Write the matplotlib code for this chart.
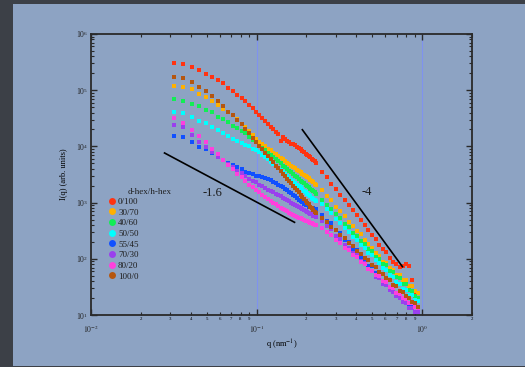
import matplotlib
matplotlib.use("Agg")
import matplotlib.pyplot as plt
from matplotlib.lines import Line2D
from matplotlib.patches import Rectangle
from matplotlib.ticker import LogLocator, FixedLocator, FixedFormatter, NullFormatter

plt.rcParams['font.family'] = ['Liberation Serif', 'DejaVu Serif']
plt.rcParams['mathtext.fontset'] = 'stix'

q_low = [0.0316, 0.0361, 0.0406, 0.0451, 0.0496, 0.0541, 0.0586, 0.0631, 0.0676, 0.0721,
         0.0766, 0.0811, 0.0856, 0.0901, 0.0946, 0.0991, 0.1036, 0.1081, 0.1126, 0.1171,
         0.1216, 0.1261, 0.1306, 0.1351, 0.1396, 0.1441, 0.1486, 0.1531, 0.1576, 0.1621,
         0.1666, 0.1711, 0.1756, 0.1801, 0.1846, 0.1891, 0.1936, 0.1981, 0.2026, 0.2071,
         0.2116, 0.2161, 0.2206, 0.2251, 0.2296]
q_high = [0.249, 0.265, 0.283, 0.302, 0.321, 0.341, 0.361, 0.382, 0.404, 0.426,
          0.449, 0.473, 0.498, 0.524, 0.551, 0.579, 0.608, 0.637, 0.667, 0.698,
          0.730, 0.763, 0.797, 0.832, 0.868, 0.905, 0.940]

# log10 I(q) for each sample
red_lo = [5.49, 5.47, 5.42, 5.36, 5.29, 5.23, 5.18, 5.12, 5.04, 4.99, 4.92, 4.86, 4.80, 4.74, 4.68,
          4.62, 4.55, 4.50, 4.45, 4.40, 4.35, 4.31, 4.26, 4.22, 4.09, 4.17, 4.13, 4.10, 4.07, 4.05,
          4.04, 4.02, 3.99, 3.97, 3.95, 3.92, 3.90, 3.87, 3.85, 3.83, 3.81, 3.78, 3.76, 3.74, 3.71]
red_hi = [3.54, 3.45, 3.33, 3.24, 3.13, 3.05, 2.95, 2.86, 2.78, 2.69, 2.60, 2.52, 2.43, 2.35, 2.25,
          2.17, 2.12, 2.02, 1.95, 1.90, 1.85, 1.88, 1.91, 1.87, 1.62, 1.40]
orange_lo = [5.08, 5.05, 5.02, 4.94, 4.88, 4.81, 4.74, 4.67, 4.61, 4.55, 4.48, 4.40, 4.34, 4.27, 4.20,
             4.14, 4.08, 4.04, 4.00, 3.96, 3.93, 3.89, 3.86, 3.83, 3.80, 3.77, 3.74, 3.71, 3.69, 3.66,
             3.63, 3.61, 3.58, 3.56, 3.54, 3.51, 3.49, 3.47, 3.45, 3.43, 3.41, 3.39, 3.36, 3.33, 3.31]
orange_hi = [3.22, 3.12, 3.04, 2.93, 2.85, 2.76, 2.66, 2.59, 2.50, 2.44, 2.34, 2.27, 2.20, 2.10, 2.05,
             1.95, 1.92, 1.83, 1.80, 1.72, 1.72, 1.62, 1.63, 1.52, 1.52, 1.43, 1.40]
green_lo = [4.84, 4.81, 4.76, 4.71, 4.65, 4.61, 4.52, 4.49, 4.44, 4.37, 4.32, 4.27, 4.23, 4.17, 4.11,
            4.07, 4.01, 3.97, 3.93, 3.89, 3.85, 3.81, 3.77, 3.74, 3.70, 3.66, 3.63, 3.60, 3.57, 3.54,
            3.51, 3.48, 3.45, 3.42, 3.39, 3.37, 3.34, 3.32, 3.29, 3.27, 3.25, 3.22, 3.20, 3.18, 3.16]
green_hi = [3.05, 2.96, 2.89, 2.79, 2.72, 2.62, 2.56, 2.46, 2.41, 2.32, 2.27, 2.18, 2.13, 2.04, 2.00,
            1.91, 1.89, 1.79, 1.77, 1.67, 1.66, 1.56, 1.55, 1.45, 1.43, 1.34, 1.31]
cyan_lo = [4.61, 4.59, 4.52, 4.46, 4.42, 4.35, 4.29, 4.23, 4.19, 4.14, 4.10, 4.06, 4.03, 4.00, 3.96,
           3.93, 3.90, 3.85, 3.81, 3.77, 3.73, 3.69, 3.65, 3.61, 3.58, 3.54, 3.51, 3.48, 3.44, 3.41,
           3.38, 3.35, 3.32, 3.30, 3.27, 3.24, 3.21, 3.19, 3.16, 3.14, 3.11, 3.09, 3.07, 3.05, 3.03]
cyan_hi = [2.97, 2.88, 2.81, 2.70, 2.64, 2.54, 2.48, 2.39, 2.34, 2.25, 2.20, 2.11, 2.06, 1.97, 1.92,
           1.83, 1.80, 1.71, 1.68, 1.58, 1.56, 1.47, 1.45, 1.36, 1.35, 1.27, 1.25]
blue_lo = [4.19, 4.17, 4.08, 3.99, 3.95, 3.88, 3.82, 3.76, 3.71, 3.67, 3.63, 3.59, 3.55, 3.52, 3.50,
           3.48, 3.47, 3.46, 3.44, 3.42, 3.40, 3.37, 3.35, 3.32, 3.30, 3.27, 3.24, 3.22, 3.19, 3.17,
           3.14, 3.11, 3.08, 3.05, 3.03, 3.01, 2.98, 2.96, 2.95, 2.93, 2.92, 2.91, 2.90, 2.89, 2.88]
blue_hi = [2.78, 2.68, 2.63, 2.51, 2.46, 2.34, 2.30, 2.18, 2.15, 2.03, 2.00, 1.88, 1.87, 1.74, 1.72,
           1.60, 1.59, 1.47, 1.47, 1.35, 1.36, 1.24, 1.26, 1.14, 1.17, 1.06, 1.09]
purple_lo = [4.38, 4.34, 4.20, 4.08, 3.99, 3.90, 3.82, 3.75, 3.69, 3.63, 3.57, 3.52, 3.47, 3.42, 3.39,
             3.36, 3.32, 3.29, 3.26, 3.23, 3.21, 3.18, 3.16, 3.13, 3.11, 3.08, 3.06, 3.04, 3.02, 3.00,
             2.98, 2.96, 2.94, 2.92, 2.90, 2.88, 2.87, 2.85, 2.83, 2.82, 2.80, 2.79, 2.77, 2.76, 2.74]
purple_hi = [2.68, 2.58, 2.53, 2.41, 2.36, 2.25, 2.20, 2.10, 2.06, 1.96, 1.92, 1.82, 1.78, 1.68, 1.65,
             1.56, 1.53, 1.44, 1.41, 1.33, 1.31, 1.23, 1.21, 1.13, 1.12, 1.05, 1.05]
magenta_lo = [4.50, 4.41, 4.30, 4.18, 4.08, 3.96, 3.86, 3.76, 3.67, 3.59, 3.51, 3.45, 3.39, 3.32, 3.27,
              3.22, 3.18, 3.14, 3.10, 3.07, 3.03, 3.00, 2.97, 2.94, 2.91, 2.89, 2.87, 2.85, 2.82, 2.80,
              2.78, 2.76, 2.75, 2.73, 2.72, 2.70, 2.69, 2.68, 2.67, 2.66, 2.64, 2.63, 2.62, 2.61, 2.60]
magenta_hi = [2.55, 2.47, 2.43, 2.33, 2.29, 2.19, 2.15, 2.06, 2.03, 1.94, 1.91, 1.82, 1.79, 1.71, 1.69,
              1.60, 1.58, 1.50, 1.48, 1.40, 1.38, 1.31, 1.29, 1.22, 1.21, 1.14, 1.12]
brown_lo = [5.23, 5.21, 5.15, 5.06, 4.99, 4.89, 4.80, 4.71, 4.62, 4.55, 4.47, 4.39, 4.31, 4.23, 4.15,
            4.08, 4.01, 3.95, 3.89, 3.83, 3.77, 3.72, 3.66, 3.61, 3.56, 3.51, 3.47, 3.42, 3.38, 3.34,
            3.30, 3.26, 3.22, 3.18, 3.14, 3.10, 3.07, 3.03, 3.00, 2.97, 2.93, 2.90, 2.87, 2.84, 2.81]
brown_hi = [2.72, 2.66, 2.57, 2.51, 2.42, 2.37, 2.28, 2.23, 2.14, 2.09, 2.01, 1.97, 1.89, 1.85, 1.77,
            1.73, 1.65, 1.62, 1.53, 1.51, 1.43, 1.41, 1.33, 1.31, 1.23, 1.21, 1.15]

labels = ['0/100', '30/70', '40/60', '50/50', '55/45', '70/30', '80/20', '100/0']
colors = ['#ff3311', '#ffb000', '#11ee55', '#00ffff', '#1050ff', '#9a40ee', '#ff40dd', '#b5560f']
series_lo = [red_lo, orange_lo, green_lo, cyan_lo, blue_lo, purple_lo, magenta_lo, brown_lo]
series_hi = [red_hi, orange_hi, green_hi, cyan_hi, blue_hi, purple_hi, magenta_hi, brown_hi]

fig = plt.figure(figsize=(5.25, 3.67), dpi=100)
fig.patch.set_facecolor('#3c4047')
fig.patches.append(Rectangle((13 / 525, 1 / 367), 1, 362 / 367, transform=fig.transFigure,
                             facecolor='#8da3c3', edgecolor='none', zorder=-10))

ax = fig.add_axes([91 / 525, 52 / 367, 381 / 525, 281 / 367])
ax.set_facecolor('none')
ax.set_xscale('log')
ax.set_yscale('log')
ax.set_xlim(0.01, 2)
ax.set_ylim(10, 1e6)

ax.axvline(0.1, color='#7f92ee', lw=0.8, zorder=1)
ax.axvline(1.0, color='#7f92ee', lw=0.8, zorder=1)

for lo, hi, c in zip(series_lo, series_hi, colors):
    ax.plot(q_low, [10 ** v for v in lo], 's', ms=2.3, mew=0, color=c, zorder=3)
    ax.plot(q_high[:len(hi)], [10 ** v for v in hi], 's', ms=2.3, mew=0, color=c, zorder=3)

# slope guides
ax.plot([0.0278, 0.1695], [7640, 446], color='black', lw=1.2, zorder=4)
ax.plot([0.189, 0.760], [19800, 72.4], color='black', lw=1.2, zorder=4)
ax.text(0.0543, 1480, '-1.6', fontsize=9, ha='center', va='center', color='#1a1a1a')
ax.text(0.46, 1545, '-4', fontsize=9, ha='center', va='center', color='#1a1a1a')

for s in ax.spines.values():
    s.set_color('#2a2a2a')
    s.set_linewidth(1.3)

ax.xaxis.set_major_locator(FixedLocator([0.01, 0.1, 1.0]))
ax.xaxis.set_major_formatter(FixedFormatter([r'$10^{-2}$', r'$10^{-1}$', r'$10^{0}$']))
minor_x = [k * 0.01 for k in range(2, 10)] + [k * 0.1 for k in range(2, 10)] + [2.0]
minor_lab = [str(k) for k in range(2, 10)] * 2 + ['2']
ax.xaxis.set_minor_locator(FixedLocator(minor_x))
ax.xaxis.set_minor_formatter(FixedFormatter(minor_lab))
ax.yaxis.set_major_locator(LogLocator(base=10, numticks=10))
ax.yaxis.set_minor_locator(LogLocator(base=10, subs=range(2, 10), numticks=10))
ax.yaxis.set_minor_formatter(NullFormatter())

ax.tick_params(which='both', direction='in', top=True, right=True, color='#2a2a2a')
ax.tick_params(which='major', length=4.5, width=1.0)
ax.tick_params(which='minor', length=2.5, width=0.8)
ax.tick_params(axis='x', which='major', labelsize=5.5, pad=6)
ax.tick_params(axis='x', which='minor', labelsize=3.5, pad=1.5)
ax.tick_params(axis='y', which='major', labelsize=5.5, pad=2)
ax.tick_params(labelcolor='#222222')

ax.set_xlabel(r'q (nm$^{-1}$)', fontsize=6, labelpad=2)
ax.set_ylabel('I(q) (arb. units)', fontsize=6, labelpad=6)

handles = [Line2D([], [], marker='o', ls='none', ms=5, mew=0, color=c) for c in colors]
leg = ax.legend(handles, labels, loc='upper left', bbox_to_anchor=(0.045, 0.418), frameon=False,
                fontsize=6.5, handlelength=0.8, handletextpad=0.3, labelspacing=0.26,
                borderpad=0, borderaxespad=0)
for t in leg.get_texts():
    t.set_color('#1e1e1e')
fig.text(150 / 525, 1 - 192 / 367, 'd-hex/h-hex', fontsize=6.5, ha='center', va='center', color='#1e1e1e')

fig.savefig('out.png', dpi=100, facecolor=fig.get_facecolor())
